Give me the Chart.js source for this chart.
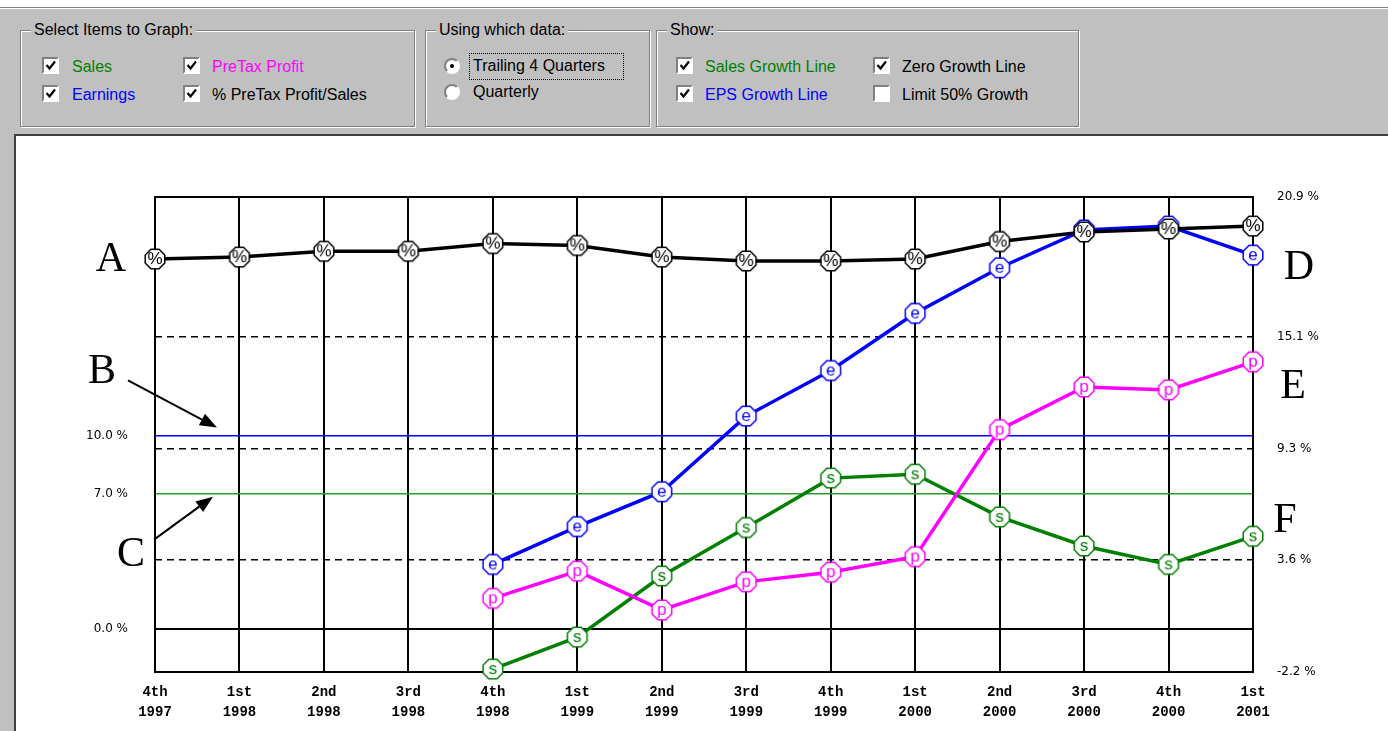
<!DOCTYPE html>
<html>
<head>
<meta charset="utf-8">
<title>Growth chart</title>
<script src="https://cdn.jsdelivr.net/npm/chart.js@4.4.0/dist/chart.umd.min.js"></script>
<style>
  body { margin: 0; width: 1388px; height: 731px; overflow: hidden; position: relative;
         background: #c0c0c0; font-family: "Liberation Sans", Arial, sans-serif; color: #000; }
  .strip { position: absolute; left: 0; top: 0; width: 1388px; height: 7px; background: #fff; border-bottom: 1px solid #808080; }
  .strip2 { position: absolute; left: 0; top: 8px; width: 1388px; height: 1px; background: #fff; }
  .group { position: absolute; top: 30px; height: 95px; border: 1px solid #808080; box-shadow: inset 1px 1px 0 #fff, 1px 1px 0 #fff; }
  .group .title { position: absolute; top: -10px; left: 10px; background: #c0c0c0; padding: 0 3px; font-size: 16px; line-height: 18px; white-space: nowrap; }
  .txt { position: absolute; font-size: 16px; line-height: 18px; white-space: nowrap; }
  .cb { position: absolute; width: 13px; height: 13px; background: #fff;
        border-top: 2px solid #808080; border-left: 2px solid #808080; border-right: 2px solid #fff; border-bottom: 2px solid #fff; }
  .cb svg { position: absolute; left: 1px; top: 1px; }
  .rb { position: absolute; width: 12px; height: 12px; border-radius: 50%; background: #fff;
        border: 2px solid; border-color: #808080 #fff #fff #808080; }
  .rb.on::after { content: ""; position: absolute; left: 4px; top: 4px; width: 4px; height: 4px; border-radius: 50%; background: #000; }
  .focus { position: absolute; border: 1px dotted #000; }
  #panel { position: absolute; left: 14px; top: 134px; width: 1374px; height: 595px; background: #fff;
           border-top: 2px solid #404040; border-left: 2px solid #404040; }
  #chart { position: absolute; left: 0; top: 0; }
</style>
</head>
<body>
<div class="strip"></div><div class="strip2"></div>

<div class="group" style="left:20px;width:393px">
  <div class="title">Select Items to Graph:</div>
  <div class="cb" style="left:21px;top:26px"><svg width="11" height="11"><path d="M1.5 5 L4.5 8.5 L10 1.5" stroke="#000" stroke-width="2.2" fill="none"/></svg></div>
  <div class="txt" style="left:51px;top:27px;color:#008000">Sales</div>
  <div class="cb" style="left:21px;top:54px"><svg width="11" height="11"><path d="M1.5 5 L4.5 8.5 L10 1.5" stroke="#000" stroke-width="2.2" fill="none"/></svg></div>
  <div class="txt" style="left:51px;top:55px;color:#0000ff">Earnings</div>
  <div class="cb" style="left:162px;top:26px"><svg width="11" height="11"><path d="M1.5 5 L4.5 8.5 L10 1.5" stroke="#000" stroke-width="2.2" fill="none"/></svg></div>
  <div class="txt" style="left:191px;top:27px;color:#ff00ff">PreTax Profit</div>
  <div class="cb" style="left:162px;top:54px"><svg width="11" height="11"><path d="M1.5 5 L4.5 8.5 L10 1.5" stroke="#000" stroke-width="2.2" fill="none"/></svg></div>
  <div class="txt" style="left:191px;top:55px">% PreTax Profit/Sales</div>
</div>

<div class="group" style="left:425px;width:223px">
  <div class="title">Using which data:</div>
  <div class="rb on" style="left:18px;top:27px"></div>
  <div class="focus" style="left:43px;top:22px;width:153px;height:25px"></div>
  <div class="txt" style="left:47px;top:26px">Trailing 4 Quarters</div>
  <div class="rb" style="left:18px;top:53px"></div>
  <div class="txt" style="left:47px;top:52px">Quarterly</div>
</div>

<div class="group" style="left:656px;width:421px">
  <div class="title">Show:</div>
  <div class="cb" style="left:19px;top:26px"><svg width="11" height="11"><path d="M1.5 5 L4.5 8.5 L10 1.5" stroke="#000" stroke-width="2.2" fill="none"/></svg></div>
  <div class="txt" style="left:48px;top:27px;color:#008000">Sales Growth Line</div>
  <div class="cb" style="left:19px;top:54px"><svg width="11" height="11"><path d="M1.5 5 L4.5 8.5 L10 1.5" stroke="#000" stroke-width="2.2" fill="none"/></svg></div>
  <div class="txt" style="left:48px;top:55px;color:#0000ff">EPS Growth Line</div>
  <div class="cb" style="left:216px;top:26px"><svg width="11" height="11"><path d="M1.5 5 L4.5 8.5 L10 1.5" stroke="#000" stroke-width="2.2" fill="none"/></svg></div>
  <div class="txt" style="left:245px;top:27px">Zero Growth Line</div>
  <div class="cb" style="left:216px;top:54px"></div>
  <div class="txt" style="left:245px;top:55px">Limit 50% Growth</div>
</div>

<div id="panel"><canvas id="chart" width="1372" height="595"></canvas></div>

<script>
// quarters along the bottom (two lines each)
const quarterLabels = [
  ['4th', '1997'], ['1st', '1998'], ['2nd', '1998'], ['3rd', '1998'],
  ['4th', '1998'], ['1st', '1999'], ['2nd', '1999'], ['3rd', '1999'],
  ['4th', '1999'], ['1st', '2000'], ['2nd', '2000'], ['3rd', '2000'],
  ['4th', '2000'], ['1st', '2001']
];

// trailing 4 quarter values (%)
const profitPctSales = [19.1, 19.2, 19.5, 19.5, 19.9, 19.8, 19.2, 19.0, 19.0, 19.1, 20.0, 20.5, 20.65, 20.8];
const earningsGrowth = [null, null, null, null, 3.35, 5.3, 7.1, 11.0, 13.35, 16.3, 18.65, 20.6, 20.8, 19.3];
const preTaxGrowth   = [null, null, null, null, 1.6, 3.0, 1.0, 2.45, 2.95, 3.75, 10.3, 12.5, 12.35, 13.8];
const salesGrowth    = [null, null, null, null, -2.05, -0.4, 2.75, 5.25, 7.8, 8.0, 5.8, 4.3, 3.35, 4.8];

// left axis: zero line, sales growth line, EPS growth line
const leftTicks = [0, 7, 10];
const leftTickLabels = ['0.0 %', '7.0 %', '10.0 %'];
// right axis
const rightTicks = [-2.2, 3.6, 9.3, 15.1, 22.3];
const rightTickLabels = ['-2.2 %', '3.6 %', '9.3 %', '15.1 %', '20.9 %'];
const yMin = -2.2, yMax = 22.3;

// octagon marker with a letter in it
function marker(letter, color) {
  const c = document.createElement('canvas');
  c.width = 24; c.height = 24;
  const g = c.getContext('2d');
  g.beginPath();
  for (let k = 0; k < 8; k++) {
    const a = Math.PI / 8 + k * Math.PI / 4;
    const px = 12 + 10.6 * Math.cos(a), py = 12 + 10.6 * Math.sin(a);
    if (k) g.lineTo(px, py); else g.moveTo(px, py);
  }
  g.closePath();
  g.fillStyle = '#fff';
  g.fill();
  g.strokeStyle = color;
  g.lineWidth = 1.5;
  g.stroke();
  g.fillStyle = color;
  g.font = '17px "Liberation Sans"';
  g.textAlign = 'center';
  g.textBaseline = 'middle';
  g.fillText(letter, 12, 12.5);
  return c;
}

function serie(data, color, letter) {
  return {
    data: data,
    borderColor: color,
    borderWidth: 3.5,
    pointStyle: marker(letter, color),
    pointRadius: 11,
    tension: 0,
    clip: false,
    yAxisID: 'y'
  };
}

// frame on top of the plot + the A..F notes with arrows
const extras = {
  id: 'extras',
  beforeDatasetsDraw(chart) {
    const { ctx, chartArea: a } = chart;
    ctx.save();
    ctx.strokeStyle = '#000';
    ctx.lineWidth = 2;
    ctx.beginPath();
    ctx.moveTo(a.left, a.top);
    ctx.lineTo(a.right, a.top);
    ctx.stroke();
    ctx.restore();
  },
  afterDraw(chart) {
    const { ctx, chartArea: a, scales: { y } } = chart;
    const last = quarterLabels.length - 1;
    const y10 = y.getPixelForValue(10), y7 = y.getPixelForValue(7);
    ctx.save();
    ctx.fillStyle = '#000';
    ctx.font = '42px "Liberation Serif"';
    ctx.textAlign = 'center';
    ctx.textBaseline = 'alphabetic';
    ctx.fillText('A', a.left - 44, y.getPixelForValue(profitPctSales[0]) + 12);
    ctx.fillText('B', a.left - 53, y10 - 52);
    ctx.fillText('C', a.left - 24, y7 + 72);
    ctx.fillText('D', a.right + 46, y.getPixelForValue(earningsGrowth[last]) + 24);
    ctx.fillText('E', a.right + 40, y.getPixelForValue(preTaxGrowth[last]) + 36);
    ctx.fillText('F', a.right + 32, y.getPixelForValue(salesGrowth[last]) - 4);

    function arrow(x1, y1, x2, y2) {
      const ang = Math.atan2(y2 - y1, x2 - x1);
      const len = 17, half = 6.5;
      const bx = x2 - len * Math.cos(ang), by = y2 - len * Math.sin(ang);
      ctx.strokeStyle = '#000';
      ctx.lineWidth = 2;
      ctx.beginPath();
      ctx.moveTo(x1, y1);
      ctx.lineTo(bx, by);
      ctx.stroke();
      ctx.beginPath();
      ctx.moveTo(x2, y2);
      ctx.lineTo(bx + half * Math.sin(ang), by - half * Math.cos(ang));
      ctx.lineTo(bx - half * Math.sin(ang), by + half * Math.cos(ang));
      ctx.closePath();
      ctx.fill();
    }
    arrow(a.left - 27, y10 - 55, a.left + 62, y10 - 8);
    arrow(a.left - 1, y7 + 46, a.left + 58, y7 + 3);
    ctx.restore();
  }
};

const axisFont = { family: 'DejaVu Sans', size: 12 };

new Chart(document.getElementById('chart'), {
  type: 'line',
  data: {
    labels: quarterLabels,
    datasets: [
      serie(profitPctSales, '#000000', '%'),
      serie(preTaxGrowth, '#ff00ff', 'p'),
      serie(earningsGrowth, '#0000ff', 'e'),
      serie(salesGrowth, '#008000', 's')
    ]
  },
  options: {
    responsive: false,
    animation: false,
    devicePixelRatio: 1,
    layout: { padding: { top: 61, left: 0, right: 0, bottom: 0 } },
    plugins: { legend: { display: false }, tooltip: { enabled: false } },
    scales: {
      x: {
        offset: false,
        grid: { color: '#000', lineWidth: 2, drawTicks: false },
        border: { color: '#000', width: 2 },
        ticks: {
          autoSkip: false, maxRotation: 0, minRotation: 0, padding: 10, color: '#000',
          font: { family: 'Liberation Mono', size: 14, weight: 'bold', lineHeight: 1.43 }
        },
        afterFit(s) { s.height = 59; }
      },
      y: {
        position: 'left',
        min: yMin, max: yMax,
        afterBuildTicks(s) { s.ticks = leftTicks.map(v => ({ value: v })); },
        grid: {
          drawTicks: false,
          color: c => ['#000000', '#2f9a2f', '#0000ff'][c.index] || 'rgba(0,0,0,0)',
          lineWidth: c => c.index === 0 ? 2 : 1.5
        },
        border: { color: '#000', width: 2 },
        ticks: { color: '#000', padding: 27, font: axisFont, callback: (v, i) => leftTickLabels[i] },
        afterFit(s) { s.width = 139; }
      },
      y2: {
        position: 'right',
        min: yMin, max: yMax,
        afterBuildTicks(s) { s.ticks = rightTicks.map(v => ({ value: v })); },
        grid: {
          drawTicks: false,
          color: c => (c.index === 0 || c.index === rightTicks.length - 1) ? 'rgba(0,0,0,0)' : '#000',
          lineWidth: 1.5
        },
        border: { color: '#000', width: 2, dash: [7, 5] },
        ticks: { color: '#000', padding: 24, font: axisFont, callback: (v, i) => rightTickLabels[i] },
        afterFit(s) { s.width = 135; }
      }
    }
  },
  plugins: [extras]
});
</script>
</body>
</html>
